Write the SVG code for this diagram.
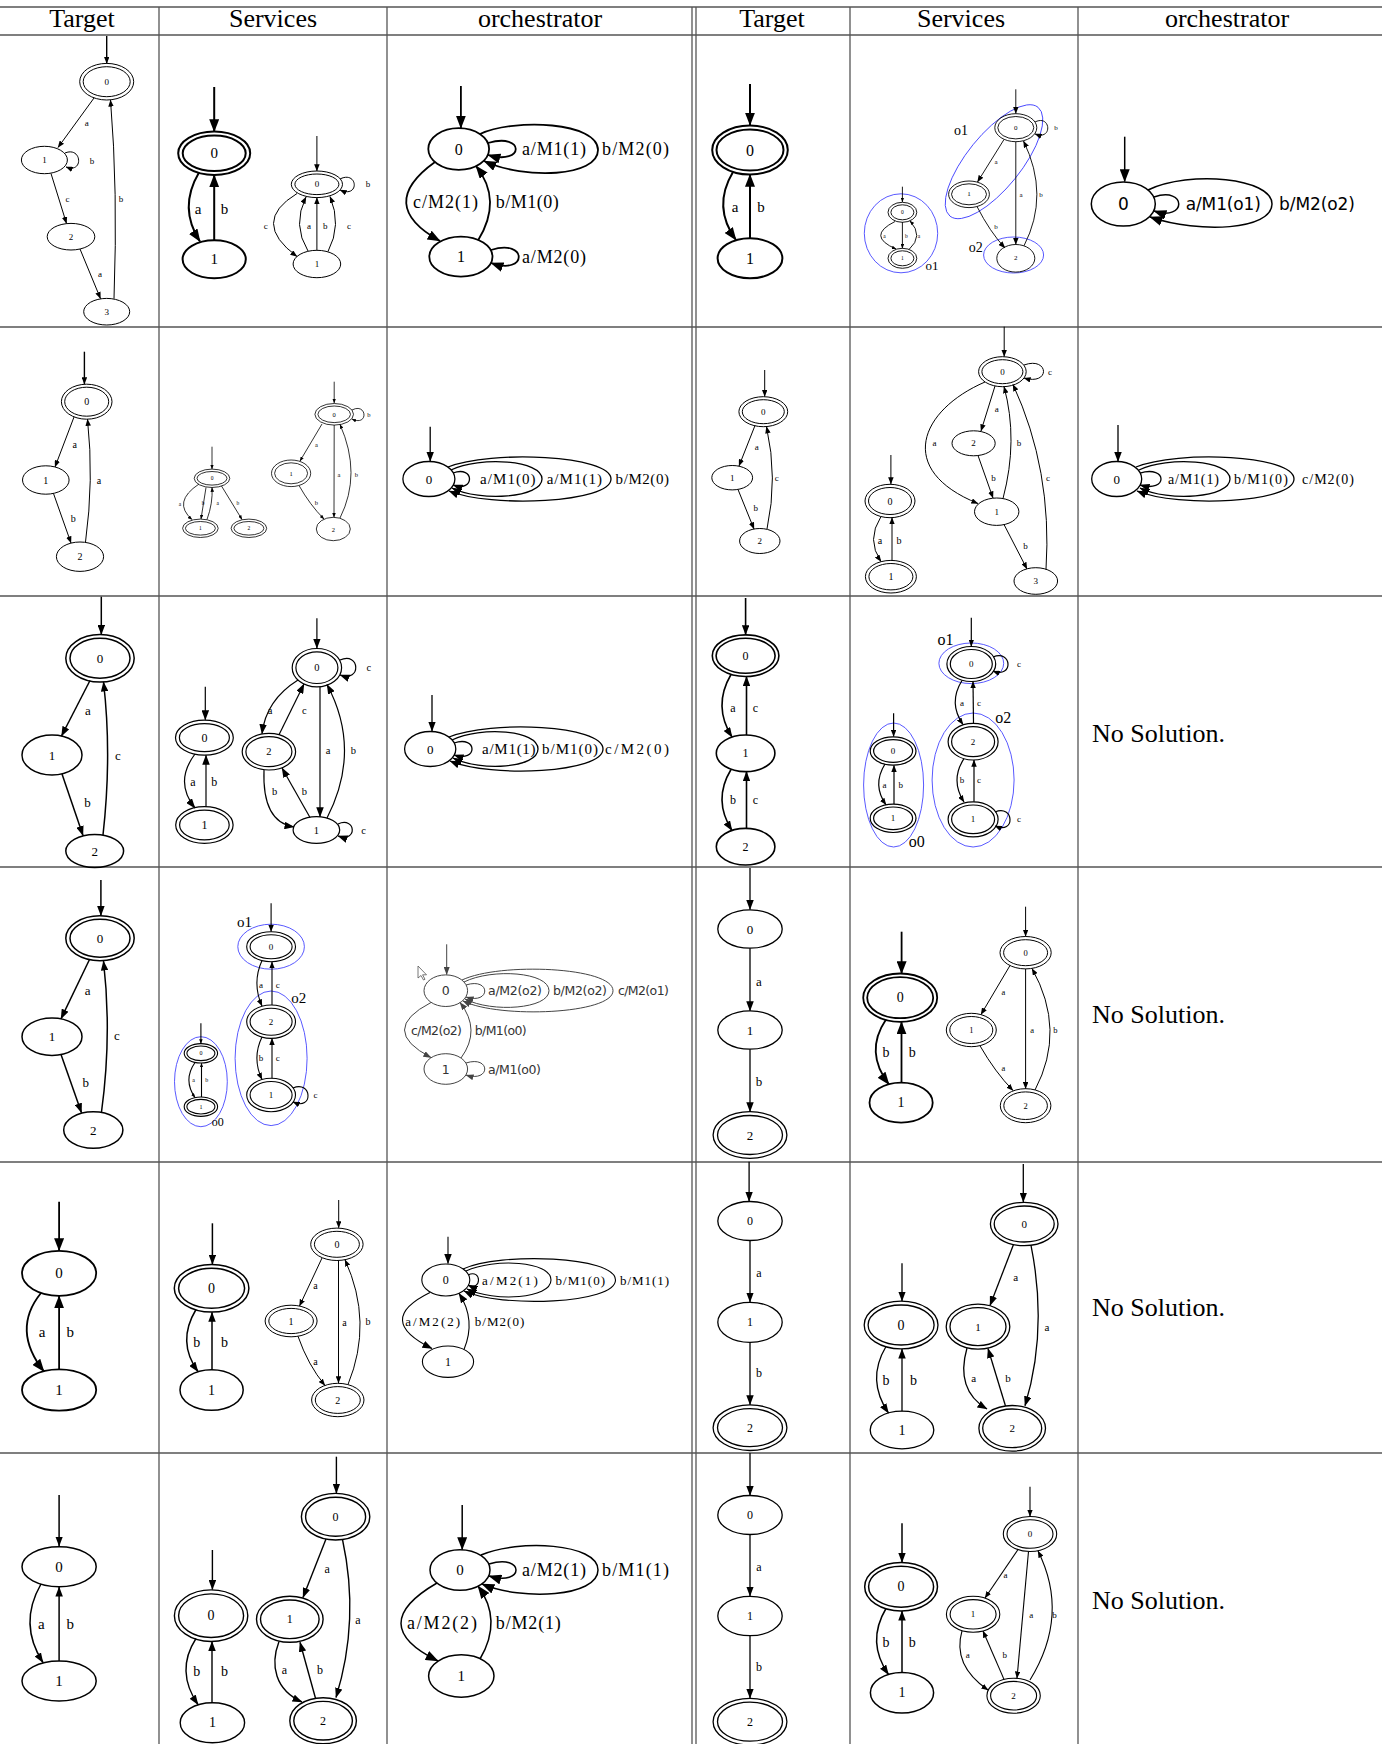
<svg xmlns="http://www.w3.org/2000/svg" width="1391" height="1744" viewBox="0 0 1391 1744">
<defs>
<style>
text{stroke:none;fill:#000;font-family:"Liberation Serif","Times New Roman",serif;text-anchor:middle;dominant-baseline:central}
.hd{font-size:26px;dominant-baseline:alphabetic}
.ns{font-size:26px;text-anchor:start;dominant-baseline:alphabetic}
.grid line{stroke:#555;stroke-width:1.3}
.cl{stroke:#4646ff;stroke-width:0.9;fill:none}
.dv{font-family:"DejaVu Sans",sans-serif}
.gr text{fill:#333}
</style>
<marker id="aL" viewBox="0 0 10 10" refX="9.5" refY="5" markerWidth="13" markerHeight="10" markerUnits="userSpaceOnUse" orient="auto" preserveAspectRatio="none"><path d="M0,0L10,5L0,10z" fill="#000"/></marker>
<marker id="aM" viewBox="0 0 10 10" refX="9.5" refY="5" markerWidth="10" markerHeight="7.5" markerUnits="userSpaceOnUse" orient="auto" preserveAspectRatio="none"><path d="M0,0L10,5L0,10z" fill="#000"/></marker>
<marker id="aS" viewBox="0 0 10 10" refX="9.5" refY="5" markerWidth="7" markerHeight="5.5" markerUnits="userSpaceOnUse" orient="auto" preserveAspectRatio="none"><path d="M0,0L10,5L0,10z" fill="#000"/></marker>
<marker id="aT" viewBox="0 0 10 10" refX="9.5" refY="5" markerWidth="4.5" markerHeight="3.5" markerUnits="userSpaceOnUse" orient="auto" preserveAspectRatio="none"><path d="M0,0L10,5L0,10z" fill="#000"/></marker>
<marker id="aG" viewBox="0 0 10 10" refX="9.5" refY="5" markerWidth="8" markerHeight="6" markerUnits="userSpaceOnUse" orient="auto" preserveAspectRatio="none"><path d="M0,0L10,5L0,10z" fill="#444"/></marker>
</defs>
<rect width="1391" height="1744" fill="#fff"/>

<g id="grid" class="grid">
<line x1="0" y1="7" x2="1382" y2="7"/>
<line x1="0" y1="35" x2="1382" y2="35"/>
<line x1="0" y1="327" x2="1382" y2="327"/>
<line x1="0" y1="596" x2="1382" y2="596"/>
<line x1="0" y1="867" x2="1382" y2="867"/>
<line x1="0" y1="1162" x2="1382" y2="1162"/>
<line x1="0" y1="1453" x2="1382" y2="1453"/>
<line x1="159" y1="7" x2="159" y2="1744"/>
<line x1="387" y1="7" x2="387" y2="1744"/>
<line x1="692" y1="7" x2="692" y2="1744"/>
<line x1="696" y1="7" x2="696" y2="1744"/>
<line x1="850" y1="7" x2="850" y2="1744"/>
<line x1="1078" y1="7" x2="1078" y2="1744"/>
</g>

<g id="header">
<text class="hd" x="82" y="27">Target</text>
<text class="hd" x="273" y="27">Services</text>
<text class="hd" x="540" y="27">orchestrator</text>
<text class="hd" x="772" y="27">Target</text>
<text class="hd" x="961" y="27">Services</text>
<text class="hd" x="1227" y="27">orchestrator</text>
</g>

<!-- ============ ROW 1 ============ -->
<g id="r1-target" stroke="#000" fill="none" stroke-width="1" font-size="9">
 <g id="r1t-n0"><ellipse cx="106.7" cy="81.7" rx="27" ry="18.3"/><ellipse cx="106.7" cy="81.7" rx="23.5" ry="15"/><text x="106.7" y="81.7">0</text></g>
 <g id="r1t-n1"><ellipse cx="44.4" cy="160" rx="23" ry="13.7"/><text x="44.4" y="160">1</text></g>
 <g id="r1t-n2"><ellipse cx="71" cy="236.7" rx="23.8" ry="13.3"/><text x="71" y="236.7">2</text></g>
 <g id="r1t-n3"><ellipse cx="106.7" cy="311.7" rx="23" ry="13.3"/><text x="106.7" y="311.7">3</text></g>
 <g id="r1t-edges" marker-end="url(#aS)">
  <path d="M106.7,36L106.7,63.4" stroke-width="1.4"/>
  <path d="M94,98L58,147.5"/><text x="86.7" y="123">a</text>
  <path d="M65,153C82,146 84,174 66,167"/><text x="92" y="160.7">b</text>
  <path d="M51,173.5L66.5,223.5"/><text x="67.5" y="199">c</text>
  <path d="M80,249L100.5,298.6"/><text x="100" y="274">a</text>
  <path d="M114,298.7Q118,190 110.5,100"/><text x="121" y="199">b</text>
 </g>
</g>

<g id="r1-services" stroke="#000" fill="none">
 <g id="r1s-A" stroke-width="2" font-size="15">
  <g id="r1sA-n0"><ellipse cx="214.2" cy="153.3" rx="36" ry="21.7"/><ellipse cx="214.2" cy="153.3" rx="31.5" ry="17.7"/><text x="214.2" y="153.3">0</text></g>
  <g id="r1sA-n1"><ellipse cx="214.2" cy="259.3" rx="31.6" ry="19"/><text x="214.2" y="259.3">1</text></g>
  <g id="r1sA-edges" marker-end="url(#aL)">
   <path d="M214.2,87L214.2,131.6"/>
   <path d="M199,172.5Q178,208 200,241.5"/><text x="198" y="209.3">a</text>
   <path d="M214.2,240.3L214.2,175"/><text x="224.4" y="209.3">b</text>
  </g>
 </g>
 <g id="r1s-B" stroke-width="1" font-size="9">
  <g id="r1sB-n0"><ellipse cx="316.9" cy="184.3" rx="25.6" ry="13.3"/><ellipse cx="316.9" cy="184.3" rx="22" ry="10.3"/><text x="316.9" y="184.3">0</text></g>
  <g id="r1sB-n1"><ellipse cx="316.9" cy="264" rx="23.8" ry="13.7"/><text x="316.9" y="264">1</text></g>
  <g id="r1sB-edges" marker-end="url(#aS)">
   <path d="M316.9,136L316.9,171"/>
   <path d="M340,179C358,170 360,199 340,190"/><text x="368" y="184.3">b</text>
   <path d="M297,193.5Q250,222 297,256.5"/><text x="265.8" y="226">c</text>
   <path d="M308,251Q292,225 306,197"/><text x="309" y="226">a</text>
   <path d="M316.9,250.3L316.9,197.6"/><text x="325.3" y="226">b</text>
   <path d="M328,251.5Q342,225 330,196.5"/><text x="348.9" y="226">c</text>
  </g>
 </g>
</g>

<g id="r1-orch" stroke="#000" fill="none" stroke-width="1.8" font-size="18">
 <g id="r1o-n0"><ellipse cx="458.7" cy="149" rx="30.4" ry="20.8"/><text x="458.7" y="149" font-size="16">0</text></g>
 <g id="r1o-n1"><ellipse cx="460.9" cy="256.7" rx="31.6" ry="20"/><text x="460.9" y="256.7" font-size="16">1</text></g>
 <g id="r1o-edges" marker-end="url(#aL)">
  <path d="M460.9,86L460.9,128"/>
  <path d="M488,143C525,132 525,166 488,155"/><text x="554" y="149" textLength="64" lengthAdjust="spacing">a/M1(1)</text>
  <path d="M480,134C515,118 598,122 598,150C598,177 525,180 484,161"/><text x="635.5" y="149" textLength="67" lengthAdjust="spacing">b/M2(0)</text>
  <path d="M435,162Q375,205 440,241"/><text x="445.5" y="201.7" textLength="65" lengthAdjust="spacing">c/M2(1)</text>
  <path d="M478,240.5Q503,200 476,166"/><text x="527.3" y="201.7" textLength="63" lengthAdjust="spacing">b/M1(0)</text>
  <path d="M491,250C528,238 528,276 491,263"/><text x="554" y="256.7" textLength="64" lengthAdjust="spacing">a/M2(0)</text>
 </g>
</g>

<g id="r1-target2" stroke="#000" fill="none" stroke-width="2" font-size="15">
 <g id="r1T-n0"><ellipse cx="750" cy="150" rx="37.8" ry="24.5"/><ellipse cx="750" cy="150" rx="33.5" ry="20.5"/><text x="750" y="150" font-size="16">0</text></g>
 <g id="r1T-n1"><ellipse cx="750" cy="258.3" rx="32.4" ry="20"/><text x="750" y="258.3" font-size="16">1</text></g>
 <g id="r1T-edges" marker-end="url(#aL)">
  <path d="M750,84L750,125"/>
  <path d="M733,172Q712,207 736,240"/><text x="735" y="207.3">a</text>
  <path d="M750,238.3L750,174.5"/><text x="761" y="207.3">b</text>
 </g>
</g>

<g id="r1-services2" stroke="#000" fill="none" stroke-width="0.9">
 <ellipse class="cl" cx="901" cy="233.3" rx="36.7" ry="39.5"/><text x="932" y="265" font-size="13">o1</text>
 <ellipse class="cl" cx="994" cy="161.7" rx="70" ry="27" transform="rotate(-51 994 161.7)"/><text x="961" y="130" font-size="14">o1</text>
 <ellipse class="cl" cx="1013.6" cy="255" rx="30" ry="18"/><text x="975.8" y="247.3" font-size="14">o2</text>
 <g id="r1S-A" font-size="5.5">
  <g id="r1SA-n0"><ellipse cx="902.4" cy="212.3" rx="14.4" ry="10"/><ellipse cx="902.4" cy="212.3" rx="11.5" ry="7.5"/><text x="902.4" y="212.3">0</text></g>
  <g id="r1SA-n1"><ellipse cx="902.4" cy="258.3" rx="14.4" ry="10"/><ellipse cx="902.4" cy="258.3" rx="11.5" ry="7.5"/><text x="902.4" y="258.3">1</text></g>
  <g id="r1SA-edges" marker-end="url(#aT)">
   <path d="M902.4,186.7L902.4,202"/>
   <path d="M895,221.5Q866,236 896,249"/><text x="884.5" y="236">a</text>
   <path d="M902.4,222L902.4,248.3"/><text x="906.4" y="236">b</text>
   <path d="M909,249.5Q924,236 910,221"/><text x="919" y="236">a</text>
  </g>
 </g>
 <g id="r1S-B" font-size="7">
  <g id="r1SB-n0"><ellipse cx="1015.8" cy="127.7" rx="21" ry="14"/><ellipse cx="1015.8" cy="127.7" rx="18" ry="11.2"/><text x="1015.8" y="127.7">0</text></g>
  <g id="r1SB-n1"><ellipse cx="969" cy="194.3" rx="20.4" ry="13.3"/><ellipse cx="969" cy="194.3" rx="17.5" ry="10.5"/><text x="969" y="194.3">1</text></g>
  <g id="r1SB-n2"><ellipse cx="1015.8" cy="258.3" rx="19" ry="13.8"/><text x="1015.8" y="258.3">2</text></g>
  <g id="r1SB-edges" marker-end="url(#aS)">
   <path d="M1015.8,89.3L1015.8,113.5"/>
   <path d="M1035,122C1051,114 1053,141 1035,134"/><text x="1056" y="127.7">b</text>
   <path d="M1004,139.5L977.5,182"/><text x="996" y="162.3">a</text>
   <path d="M1015.8,141.7L1015.8,244.5"/><text x="1021" y="195">a</text>
   <path d="M1024,245.8Q1050,195 1023.5,141"/><text x="1041" y="195">b</text>
   <path d="M977,206.5Q990,232 1005,248"/><text x="996" y="227.3">b</text>
  </g>
 </g>
</g>

<g id="r1-orch2" stroke="#000" fill="none" stroke-width="1.5" font-size="17">
 <g id="r1O-n0"><ellipse cx="1123.3" cy="204" rx="32" ry="22"/><text class="dv" x="1123.3" y="204">0</text></g>
 <g id="r1O-edges" marker-end="url(#aL)">
  <path d="M1124.7,136.7L1124.7,181.5"/>
  <path d="M1154,197C1187,186 1187,222 1154,211"/><text class="dv" x="1223.3" y="204" textLength="75" lengthAdjust="spacing">a/M1(o1)</text>
  <path d="M1148,190C1190,170 1272,178 1272,204C1272,230 1200,234 1150,217"/><text class="dv" x="1317" y="204" textLength="76" lengthAdjust="spacing">b/M2(o2)</text>
 </g>
</g>

<!-- ============ ROW 2 ============ -->
<g id="r2-target" stroke="#000" fill="none" stroke-width="1" font-size="10">
 <g id="r2t-n0"><ellipse cx="86.7" cy="401.7" rx="25.3" ry="17.5"/><ellipse cx="86.7" cy="401.7" rx="22" ry="14.5"/><text x="86.7" y="401.7">0</text></g>
 <g id="r2t-n1"><ellipse cx="45.8" cy="480" rx="23.3" ry="14.2"/><text x="45.8" y="480">1</text></g>
 <g id="r2t-n2"><ellipse cx="80" cy="556.7" rx="23.6" ry="14.7"/><text x="80" y="556.7">2</text></g>
 <g id="r2t-edges" marker-end="url(#aS)">
  <path d="M84.4,351.7L84.4,384" stroke-width="1.4"/>
  <path d="M74,417L55,467"/><text x="74.7" y="444">a</text>
  <path d="M53.5,493.5L71,543"/><text x="73.3" y="518.3">b</text>
  <path d="M85.5,542Q94,480 87.5,419.2"/><text x="99" y="480.7">a</text>
 </g>
</g>

<g id="r2-services" stroke="#000" fill="none" stroke-width="0.8">
 <g id="r2s-A" font-size="5.5">
  <g id="r2sA-n0"><ellipse cx="212" cy="478.3" rx="17.8" ry="9.2"/><ellipse cx="212" cy="478.3" rx="15" ry="6.8"/><text x="212" y="478.3">0</text></g>
  <g id="r2sA-n1"><ellipse cx="200.4" cy="528.3" rx="17.8" ry="9.2"/><ellipse cx="200.4" cy="528.3" rx="15" ry="6.8"/><text x="200.4" y="528.3">1</text></g>
  <g id="r2sA-n2"><ellipse cx="248.9" cy="528.3" rx="17.8" ry="9.2"/><ellipse cx="248.9" cy="528.3" rx="15" ry="6.8"/><text x="248.9" y="528.3">2</text></g>
  <g id="r2sA-edges" marker-end="url(#aT)">
   <path d="M212,446.7L212,469"/>
   <path d="M199,484Q172,502 192,519.5"/><text x="180" y="504">a</text>
   <path d="M206,487.5L201,519"/><text x="203" y="503.3">b</text>
   <path d="M207,519.5Q213,503 212,487.5"/><text x="217.8" y="503.3">a</text>
   <path d="M221.5,486L242,519.5"/><text x="237.8" y="503.3">b</text>
  </g>
 </g>
 <g id="r2s-B" font-size="6.5">
  <g id="r2sB-n0"><ellipse cx="334.2" cy="414.3" rx="19.3" ry="10.8"/><ellipse cx="334.2" cy="414.3" rx="16.3" ry="8.3"/><text x="334.2" y="414.3">0</text></g>
  <g id="r2sB-n1"><ellipse cx="291.1" cy="473.3" rx="19.6" ry="13.3"/><ellipse cx="291.1" cy="473.3" rx="16.5" ry="10.5"/><text x="291.1" y="473.3">1</text></g>
  <g id="r2sB-n2"><ellipse cx="333.3" cy="529" rx="17" ry="11.7"/><text x="333.3" y="529">2</text></g>
  <g id="r2sB-edges" marker-end="url(#aT)">
   <path d="M334.2,381.7L334.2,403"/>
   <path d="M352,410C367,402 369,427 352,419"/><text x="368.9" y="414.3">b</text>
   <path d="M322,424L300,461"/><text x="316.4" y="444.3">a</text>
   <path d="M334.2,425L334,517.3"/><text x="339" y="474">a</text>
   <path d="M340,518Q362,474 340,424.5"/><text x="356.4" y="474">b</text>
   <path d="M299,485.5Q310,505 324,519"/><text x="316.4" y="502.7">b</text>
  </g>
 </g>
</g>

<g id="r2-orch" stroke="#000" fill="none" stroke-width="1.3" font-size="15">
 <g id="r2o-n0"><ellipse cx="428.9" cy="479" rx="26" ry="17.5"/><text x="428.9" y="479" font-size="13">0</text></g>
 <g id="r2o-edges" marker-end="url(#aM)">
  <path d="M430.2,426.7L430.2,461.3"/>
  <path d="M453,473C475,465 475,493 453,485"/><text x="507.8" y="479" textLength="55.6" lengthAdjust="spacing">a/M1(0)</text>
  <path d="M451,470C480,456 542,460 542,479C542,498 480,502 452,488"/><text x="574.3" y="479" textLength="55.3" lengthAdjust="spacing">a/M1(1)</text>
  <path d="M448,467C490,450 611,455 611,479C611,503 490,508 449,491"/><text x="642.3" y="479" textLength="53.4" lengthAdjust="spacing">b/M2(0)</text>
 </g>
</g>

<g id="r2-target2" stroke="#000" fill="none" stroke-width="1" font-size="9">
 <g id="r2T-n0"><ellipse cx="763.3" cy="411.7" rx="24.4" ry="15"/><ellipse cx="763.3" cy="411.7" rx="21" ry="12"/><text x="763.3" y="411.7">0</text></g>
 <g id="r2T-n1"><ellipse cx="732.2" cy="477.7" rx="20.4" ry="12.2"/><text x="732.2" y="477.7">1</text></g>
 <g id="r2T-n2"><ellipse cx="759.8" cy="541" rx="20.2" ry="12.5"/><text x="759.8" y="541">2</text></g>
 <g id="r2T-edges" marker-end="url(#aS)">
  <path d="M764.7,370L764.7,396.5"/>
  <path d="M755,425.5L739,466"/><text x="756.7" y="446.7">a</text>
  <path d="M738,489.5L754,529"/><text x="755.8" y="508.3">b</text>
  <path d="M767,529Q778,478 766.5,426.7"/><text x="776.7" y="477.7">c</text>
 </g>
</g>

<g id="r2-services2" stroke="#000" fill="none" stroke-width="1">
 <g id="r2S-A" font-size="10">
  <g id="r2SA-n0"><ellipse cx="890" cy="501" rx="25" ry="16.7"/><ellipse cx="890" cy="501" rx="21.5" ry="13.5"/><text x="890" y="501">0</text></g>
  <g id="r2SA-n1"><ellipse cx="890.9" cy="576.7" rx="25.5" ry="16.3"/><ellipse cx="890.9" cy="576.7" rx="22" ry="13.2"/><text x="890.9" y="576.7">1</text></g>
  <g id="r2SA-edges" marker-end="url(#aS)">
   <path d="M890.9,455L890.9,484"/>
   <path d="M881,516.5Q866,540 881,561.5"/><text x="880" y="540">a</text>
   <path d="M892,560.4L892,517.7"/><text x="899" y="540">b</text>
  </g>
 </g>
 <g id="r2S-B" font-size="9">
  <g id="r2SB-n0"><ellipse cx="1002.4" cy="371.7" rx="23.8" ry="15"/><ellipse cx="1002.4" cy="371.7" rx="20.5" ry="12"/><text x="1002.4" y="371.7">0</text></g>
  <g id="r2SB-n2"><ellipse cx="973.6" cy="443.3" rx="21.6" ry="12.5"/><text x="973.6" y="443.3">2</text></g>
  <g id="r2SB-n1"><ellipse cx="996.7" cy="511.7" rx="22.2" ry="13.7"/><text x="996.7" y="511.7">1</text></g>
  <g id="r2SB-n3"><ellipse cx="1035.8" cy="581" rx="21.8" ry="13.3"/><text x="1035.8" y="581">3</text></g>
  <g id="r2SB-edges" marker-end="url(#aS)">
   <path d="M1004.2,326.7L1004.2,356.5"/>
   <path d="M1024,365C1049,356 1051,386 1024,378"/><text x="1050" y="371.7">c</text>
   <path d="M995,386L981,431"/><text x="996.7" y="409.3">a</text>
   <path d="M985,382C920,410 895,470 978,503.5"/><text x="934.4" y="443.3">a</text>
   <path d="M978,455.5L993,498"/><text x="993.6" y="477.7">b</text>
   <path d="M1003,498.5Q1018.5,440 1004,386.6"/><text x="1018.9" y="443.3">b</text>
   <path d="M1004,524.5L1027,569"/><text x="1025.6" y="545.7">b</text>
   <path d="M1046,569.5Q1052.5,470 1013,384.5"/><text x="1048" y="478.3">c</text>
  </g>
 </g>
</g>

<g id="r2-orch2" stroke="#000" fill="none" stroke-width="1.3" font-size="14">
 <g id="r2O-n0"><ellipse cx="1116.7" cy="479" rx="25" ry="17.5"/><text x="1116.7" y="479" font-size="13">0</text></g>
 <g id="r2O-edges" marker-end="url(#aM)">
  <path d="M1118,425L1118,461.5"/>
  <path d="M1140,473C1168,465 1168,493 1140,485"/><text x="1193.4" y="479" textLength="51" lengthAdjust="spacing">a/M1(1)</text>
  <path d="M1139,470C1168,456 1230,460 1230,479C1230,498 1168,502 1140,488"/><text x="1261" y="479" textLength="54" lengthAdjust="spacing">b/M1(0)</text>
  <path d="M1136,467C1178,450 1294,455 1294,479C1294,503 1178,508 1137,491"/><text x="1328" y="479" textLength="52" lengthAdjust="spacing">c/M2(0)</text>
 </g>
</g>

<!-- ============ ROW 3 ============ -->
<g id="r3-target" stroke="#000" fill="none" stroke-width="1.5" font-size="13">
 <g id="r3t-n0"><ellipse cx="100" cy="658.3" rx="34.2" ry="23.7"/><ellipse cx="100" cy="658.3" rx="30" ry="20"/><text x="100" y="658.3">0</text></g>
 <g id="r3t-n1"><ellipse cx="52" cy="755" rx="30" ry="20"/><text x="52" y="755">1</text></g>
 <g id="r3t-n2"><ellipse cx="94.7" cy="851" rx="28.9" ry="16.5"/><text x="94.7" y="851">2</text></g>
 <g id="r3t-edges" marker-end="url(#aM)">
  <path d="M101.3,596.7L101.3,634.5"/>
  <path d="M90,680.5L61.5,736"/><text x="88" y="710">a</text>
  <path d="M62,774L83,835.5"/><text x="87.6" y="802.3">b</text>
  <path d="M103,835Q112,755 103.5,682"/><text x="117.8" y="755">c</text>
 </g>
</g>

<g id="r3-services" stroke="#000" fill="none" stroke-width="1.2">
 <g id="r3s-A" font-size="12">
  <g id="r3sA-n0"><ellipse cx="204.4" cy="737.7" rx="28.9" ry="17.5"/><ellipse cx="204.4" cy="737.7" rx="25" ry="14"/><text x="204.4" y="737.7">0</text></g>
  <g id="r3sA-n1"><ellipse cx="204.4" cy="825" rx="28.7" ry="18.3"/><ellipse cx="204.4" cy="825" rx="24.8" ry="14.8"/><text x="204.4" y="825">1</text></g>
  <g id="r3sA-edges" marker-end="url(#aM)">
   <path d="M205.3,686.7L205.3,719.8"/>
   <path d="M195,754Q174,782 195,808"/><text x="193" y="782.3">a</text>
   <path d="M206,806.7L206,755.2"/><text x="214.2" y="782.3">b</text>
  </g>
 </g>
 <g id="r3s-B" font-size="10.5">
  <g id="r3sB-n0"><ellipse cx="316.9" cy="667.7" rx="24.7" ry="19.2"/><ellipse cx="316.9" cy="667.7" rx="21" ry="15.8"/><text x="316.9" y="667.7">0</text></g>
  <g id="r3sB-n2"><ellipse cx="268.9" cy="751.7" rx="26.7" ry="18.3"/><ellipse cx="268.9" cy="751.7" rx="23" ry="15"/><text x="268.9" y="751.7">2</text></g>
  <g id="r3sB-n1"><ellipse cx="316.4" cy="830" rx="23.3" ry="13.3"/><text x="316.4" y="830">1</text></g>
  <g id="r3sB-edges" marker-end="url(#aM)">
   <path d="M316.9,618.3L316.9,648.3"/>
   <path d="M340,660C360,651 362,683 340,675"/><text x="368.9" y="667.7">c</text>
   <path d="M298,680Q266,700 262,733.7"/><text x="270" y="710">a</text>
   <path d="M279,734.7L304,684"/><text x="304.4" y="710">c</text>
   <path d="M320,686.9L320,816.8"/><text x="328" y="750.7">a</text>
   <path d="M327,818Q362,750 327,684.5"/><text x="353.3" y="750.7">b</text>
   <path d="M264,770Q262,822 294,827"/><text x="274.7" y="791.7">b</text>
   <path d="M310,817.5L282,768"/><text x="304.4" y="791.7">b</text>
   <path d="M338,824C356,816 358,843 338,836"/><text x="363.6" y="830">c</text>
  </g>
 </g>
</g>

<g id="r3-orch" stroke="#000" fill="none" stroke-width="1.3" font-size="15">
 <g id="r3o-n0"><ellipse cx="430.2" cy="749" rx="25.6" ry="17.5"/><text x="430.2" y="749" font-size="13">0</text></g>
 <g id="r3o-edges" marker-end="url(#aM)">
  <path d="M432,695L432,731.2"/>
  <path d="M454,743C478,735 478,763 454,755"/><text x="508.8" y="749" textLength="53.6" lengthAdjust="spacing">a/M1(1)</text>
  <path d="M452,740C481,726 538,730 538,749C538,768 481,772 453,758"/><text x="570" y="749" textLength="56" lengthAdjust="spacing">b/M1(0)</text>
  <path d="M449,737C491,720 603,725 603,749C603,773 491,778 450,761"/><text x="637" y="749" textLength="64" lengthAdjust="spacing">c/M2(0)</text>
 </g>
</g>

<g id="r3-target2" stroke="#000" fill="none" stroke-width="1.6" font-size="12">
 <g id="r3T-n0"><ellipse cx="745.6" cy="655.7" rx="33.3" ry="20.8"/><ellipse cx="745.6" cy="655.7" rx="29.5" ry="17.5"/><text x="745.6" y="655.7">0</text></g>
 <g id="r3T-n1"><ellipse cx="745.6" cy="753.3" rx="29.3" ry="18.3"/><text x="745.6" y="753.3">1</text></g>
 <g id="r3T-n2"><ellipse cx="745.6" cy="846.7" rx="29.3" ry="18.3"/><text x="745.6" y="846.7">2</text></g>
 <g id="r3T-edges" marker-end="url(#aM)">
  <path d="M745.6,598L745.6,634.7"/>
  <path d="M731,674.5Q712.5,706 732,737"/><text x="733" y="708.3">a</text>
  <path d="M746.5,735L746.5,676.5"/><text x="755.3" y="708.3">c</text>
  <path d="M731,769.5Q712.5,800 732,830.5"/><text x="733" y="800">b</text>
  <path d="M746.5,828.4L746.5,771.6"/><text x="755.3" y="800">c</text>
 </g>
</g>

<g id="r3-services2" stroke="#000" fill="none" stroke-width="1.2">
 <ellipse class="cl" cx="893.6" cy="785" rx="30" ry="62"/><text x="916.7" y="841.7" font-size="16">o0</text>
 <ellipse class="cl" cx="971.3" cy="663.3" rx="32.4" ry="20.3"/><text x="945.6" y="639.3" font-size="16">o1</text>
 <ellipse class="cl" cx="973.1" cy="780" rx="41" ry="67"/><text x="1003.3" y="717.7" font-size="16">o2</text>
 <g id="r3S-A" font-size="9">
  <g id="r3SA-n0"><ellipse cx="893.1" cy="751" rx="22.9" ry="14.2"/><ellipse cx="893.1" cy="751" rx="19.5" ry="11.3"/><text x="893.1" y="751">0</text></g>
  <g id="r3SA-n1"><ellipse cx="893.1" cy="818.3" rx="22.9" ry="14.2"/><ellipse cx="893.1" cy="818.3" rx="19.5" ry="11.3"/><text x="893.1" y="818.3">1</text></g>
  <g id="r3SA-edges" marker-end="url(#aS)">
   <path d="M893.6,713.3L893.6,736.5"/>
   <path d="M885,764Q872,785 886,804.8"/><text x="884.5" y="785">a</text>
   <path d="M894,804L894,765.4"/><text x="900.7" y="785">b</text>
  </g>
 </g>
 <g id="r3S-B" font-size="9">
  <g id="r3SB-n0"><ellipse cx="971.3" cy="664" rx="24.4" ry="17.5"/><ellipse cx="971.3" cy="664" rx="21" ry="14.5"/><text x="971.3" y="664">0</text></g>
  <g id="r3SB-n2"><ellipse cx="973.1" cy="741.7" rx="25" ry="18.3"/><ellipse cx="973.1" cy="741.7" rx="21.5" ry="15"/><text x="973.1" y="741.7">2</text></g>
  <g id="r3SB-n1"><ellipse cx="973.1" cy="819.3" rx="25" ry="17.5"/><ellipse cx="973.1" cy="819.3" rx="21.5" ry="14.3"/><text x="973.1" y="819.3">1</text></g>
  <g id="r3SB-edges" marker-end="url(#aS)">
   <path d="M971.3,617.7L971.3,646.3"/>
   <path d="M993,657C1012,649 1014,679 993,671"/><text x="1018.9" y="664">c</text>
   <path d="M962,680.5Q948,703 963,724.5"/><text x="962" y="703.3">a</text>
   <path d="M973.5,723.4L973,681.5"/><text x="978.9" y="703.3">c</text>
   <path d="M964,758.7Q950,780 964,802"/><text x="962" y="780">b</text>
   <path d="M974,801.8L974,760"/><text x="978.9" y="780">c</text>
   <path d="M995,812C1014,804 1016,835 995,826"/><text x="1018.9" y="819.3">c</text>
  </g>
 </g>
</g>

<text class="ns" x="1092" y="741.7">No Solution.</text>

<!-- ============ ROW 4 ============ -->
<g id="r4-target" stroke="#000" fill="none" stroke-width="1.5" font-size="13">
 <g id="r4t-n0"><ellipse cx="100" cy="938.3" rx="34.2" ry="22.5"/><ellipse cx="100" cy="938.3" rx="30" ry="19"/><text x="100" y="938.3">0</text></g>
 <g id="r4t-n1"><ellipse cx="52" cy="1036.7" rx="30" ry="18.7"/><text x="52" y="1036.7">1</text></g>
 <g id="r4t-n2"><ellipse cx="93.3" cy="1130" rx="29.6" ry="18.3"/><text x="93.3" y="1130">2</text></g>
 <g id="r4t-edges" marker-end="url(#aM)">
  <path d="M100.9,880L100.9,915.6"/>
  <path d="M89.5,959.5L61,1018.8"/><text x="87.6" y="990.7">a</text>
  <path d="M61,1054.5L81.5,1112.8"/><text x="85.8" y="1082.3">b</text>
  <path d="M101.5,1112Q112,1035 103.5,961"/><text x="116.9" y="1035.7">c</text>
 </g>
</g>

<g id="r4-services" stroke="#000" fill="none" stroke-width="1.1">
 <ellipse class="cl" cx="200.9" cy="1081.7" rx="26.4" ry="45"/><text x="217.8" y="1122.3" font-size="12">o0</text>
 <ellipse class="cl" cx="271.1" cy="946.7" rx="33.3" ry="22.5"/><text x="244.4" y="922.3" font-size="15">o1</text>
 <ellipse class="cl" cx="271.1" cy="1058.3" rx="36" ry="67.3"/><text x="298.7" y="997.7" font-size="15">o2</text>
 <g id="r4s-A" font-size="6">
  <g id="r4sA-n0"><ellipse cx="200.9" cy="1053.3" rx="16.7" ry="9.7"/><ellipse cx="200.9" cy="1053.3" rx="14" ry="7.3"/><text x="200.9" y="1053.3">0</text></g>
  <g id="r4sA-n1"><ellipse cx="200.9" cy="1106.7" rx="16.7" ry="9.7"/><ellipse cx="200.9" cy="1106.7" rx="14" ry="7.3"/><text x="200.9" y="1106.7">1</text></g>
  <g id="r4sA-edges" marker-end="url(#aT)">
   <path d="M200.9,1023.3L200.9,1043.5"/>
   <path d="M195,1062.5Q182.8,1080 195,1097.5"/><text x="193.5" y="1080">a</text>
   <path d="M201.5,1097L201.5,1063.2"/><text x="206.7" y="1080">b</text>
  </g>
 </g>
 <g id="r4s-B" font-size="9">
  <g id="r4sB-n0"><ellipse cx="271.1" cy="946.7" rx="24.4" ry="15"/><ellipse cx="271.1" cy="946.7" rx="21" ry="12"/><text x="271.1" y="946.7">0</text></g>
  <g id="r4sB-n2"><ellipse cx="271.1" cy="1021.7" rx="24.4" ry="16.7"/><ellipse cx="271.1" cy="1021.7" rx="21" ry="13.5"/><text x="271.1" y="1021.7">2</text></g>
  <g id="r4sB-n1"><ellipse cx="271.1" cy="1095" rx="24.4" ry="16.7"/><ellipse cx="271.1" cy="1095" rx="21" ry="13.5"/><text x="271.1" y="1095">1</text></g>
  <g id="r4sB-edges" marker-end="url(#aS)">
   <path d="M271.1,903.3L271.1,931.5"/>
   <path d="M262,960.5Q251.8,983 262,1006"/><text x="261" y="985">a</text>
   <path d="M272,1005L272,961.8"/><text x="277.8" y="985">c</text>
   <path d="M262,1037Q251.8,1058 262,1079.5"/><text x="261" y="1058.3">b</text>
   <path d="M272,1078.3L272,1038.4"/><text x="277.8" y="1058.3">c</text>
   <path d="M293,1088C312,1080 314,1111 293,1102"/><text x="315.6" y="1095">c</text>
  </g>
 </g>
</g>

<g id="r4-orch" class="gr" stroke="#444" fill="none" stroke-width="1" font-size="12.5">
 <path id="r4o-cursor" d="M418,966L418,978L421,975.5L423.5,980L425,979.3L422.6,974.8L426.5,974.8Z" fill="#fff" stroke="#555" stroke-width="0.8"/>
 <g id="r4o-n0"><ellipse cx="445.8" cy="990.7" rx="21.8" ry="15.8"/><text class="dv" x="445.8" y="990.7">0</text></g>
 <g id="r4o-n1"><ellipse cx="445.8" cy="1069" rx="21.8" ry="15.3"/><text class="dv" x="445.8" y="1069">1</text></g>
 <g id="r4o-edges" marker-end="url(#aG)">
  <path d="M446.7,944.3L446.7,974.5"/>
  <path d="M466,985C491,977 491,1005 466,997"/><text class="dv" x="515" y="990.7" textLength="54" lengthAdjust="spacing">a/M2(o2)</text>
  <path d="M464,982C492,968 549,972 549,990.7C549,1009 492,1013 465,999"/><text class="dv" x="580" y="990.7" textLength="54" lengthAdjust="spacing">b/M2(o2)</text>
  <path d="M462,980C500,962 613,967 613,990.7C613,1014 500,1019 463,1001"/><text class="dv" x="643.4" y="990.7" textLength="51" lengthAdjust="spacing">c/M2(o1)</text>
  <path d="M431,1002.5Q378,1030 431,1057.5"/><text class="dv" x="436.5" y="1030" textLength="51" lengthAdjust="spacing">c/M2(o2)</text>
  <path d="M461,1058Q481.5,1030 460,1002.5"/><text class="dv" x="500.7" y="1030" textLength="52" lengthAdjust="spacing">b/M1(o0)</text>
  <path d="M466,1063C491,1055 491,1083 466,1075"/><text class="dv" x="514.5" y="1069" textLength="53" lengthAdjust="spacing">a/M1(o0)</text>
 </g>
</g>

<g id="r4-target2" stroke="#000" fill="none" stroke-width="1.3" font-size="13">
 <g id="r4T-n0"><ellipse cx="750" cy="929" rx="32.2" ry="19.2"/><text x="750" y="929">0</text></g>
 <g id="r4T-n1"><ellipse cx="750" cy="1030" rx="32.2" ry="19.2"/><text x="750" y="1030">1</text></g>
 <g id="r4T-n2"><ellipse cx="750" cy="1135" rx="36.9" ry="23.3"/><ellipse cx="750" cy="1135" rx="32.5" ry="19.5"/><text x="750" y="1135">2</text></g>
 <g id="r4T-edges" marker-end="url(#aM)">
  <path d="M750,868L750,909.5"/>
  <path d="M750,948.2L750,1010.8"/><text x="758.9" y="981.7">a</text>
  <path d="M750,1049.2L750,1111.7"/><text x="758.9" y="1081">b</text>
 </g>
</g>

<g id="r4-services2" stroke="#000" fill="none">
 <g id="r4S-A" stroke-width="1.8" font-size="14">
  <g id="r4SA-n0"><ellipse cx="900.2" cy="997.7" rx="37" ry="24.2"/><ellipse cx="900.2" cy="997.7" rx="33" ry="20.5"/><text x="900.2" y="997.7">0</text></g>
  <g id="r4SA-n1"><ellipse cx="901.1" cy="1102.7" rx="31.6" ry="20"/><text x="901.1" y="1102.7">1</text></g>
  <g id="r4SA-edges" marker-end="url(#aL)">
   <path d="M901.6,931.7L901.6,973.5"/>
   <path d="M886,1019.5Q864,1052 889,1084.5"/><text x="886" y="1052.3">b</text>
   <path d="M901.5,1082.7L901.5,1022"/><text x="912.2" y="1052.3">b</text>
  </g>
 </g>
 <g id="r4S-B" stroke-width="1" font-size="8.5">
  <g id="r4SB-n0"><ellipse cx="1025.6" cy="952.7" rx="25.6" ry="16.2"/><ellipse cx="1025.6" cy="952.7" rx="22" ry="13"/><text x="1025.6" y="952.7">0</text></g>
  <g id="r4SB-n1"><ellipse cx="971.3" cy="1030" rx="25" ry="16.7"/><ellipse cx="971.3" cy="1030" rx="21.5" ry="13.5"/><text x="971.3" y="1030">1</text></g>
  <g id="r4SB-n2"><ellipse cx="1025.6" cy="1105.7" rx="25.3" ry="17"/><ellipse cx="1025.6" cy="1105.7" rx="21.8" ry="13.8"/><text x="1025.6" y="1105.7">2</text></g>
  <g id="r4SB-edges" marker-end="url(#aS)">
   <path d="M1025.6,906.7L1025.6,936.3"/>
   <path d="M1010,965.5L981,1014.5"/><text x="1003.3" y="991.7">a</text>
   <path d="M1025.6,968.9L1025.6,1088.7"/><text x="1032.2" y="1030">a</text>
   <path d="M1035,1090Q1066.5,1030 1032,968.5"/><text x="1055.3" y="1030">b</text>
   <path d="M980,1045.8Q995,1072 1013,1090.5"/><text x="1003.3" y="1068.3">a</text>
  </g>
 </g>
</g>

<text class="ns" x="1092" y="1023.3">No Solution.</text>

<!-- ============ ROW 5 ============ -->
<g id="r5-target" stroke="#000" fill="none" stroke-width="1.8" font-size="15">
 <g id="r5t-n0"><ellipse cx="59.1" cy="1273.3" rx="37.1" ry="22.5"/><text x="59.1" y="1273.3">0</text></g>
 <g id="r5t-n1"><ellipse cx="59.1" cy="1390" rx="37.1" ry="20.7"/><text x="59.1" y="1390">1</text></g>
 <g id="r5t-edges" marker-end="url(#aL)">
  <path d="M59.1,1201.7L59.1,1250.5"/>
  <path d="M41,1293Q11,1330 44,1371.5"/><text x="42.2" y="1331.7">a</text>
  <path d="M59.1,1369.3L59.1,1296"/><text x="70.2" y="1331.7">b</text>
 </g>
</g>

<g id="r5-services" stroke="#000" fill="none">
 <g id="r5s-A" stroke-width="1.5" font-size="14">
  <g id="r5sA-n0"><ellipse cx="211.6" cy="1288.3" rx="37.3" ry="23.8"/><ellipse cx="211.6" cy="1288.3" rx="33" ry="20"/><text x="211.6" y="1288.3">0</text></g>
  <g id="r5sA-n1"><ellipse cx="211.6" cy="1390" rx="31.6" ry="20.3"/><text x="211.6" y="1390">1</text></g>
  <g id="r5sA-edges" marker-end="url(#aM)">
   <path d="M212.4,1223.3L212.4,1264.3"/>
   <path d="M196,1309.5Q176.4,1342 198,1371.5"/><text x="196.8" y="1342.7">b</text>
   <path d="M212,1369.7L212,1312.3"/><text x="224.4" y="1342.7">b</text>
  </g>
 </g>
 <g id="r5s-B" stroke-width="1" font-size="10">
  <g id="r5sB-n0"><ellipse cx="336.9" cy="1244.3" rx="26.2" ry="16.2"/><ellipse cx="336.9" cy="1244.3" rx="22.5" ry="13"/><text x="336.9" y="1244.3">0</text></g>
  <g id="r5sB-n1"><ellipse cx="291.1" cy="1321" rx="26" ry="15.8"/><ellipse cx="291.1" cy="1321" rx="22.3" ry="12.6"/><text x="291.1" y="1321">1</text></g>
  <g id="r5sB-n2"><ellipse cx="337.8" cy="1400" rx="26.2" ry="16.7"/><ellipse cx="337.8" cy="1400" rx="22.5" ry="13.4"/><text x="337.8" y="1400">2</text></g>
  <g id="r5sB-edges" marker-end="url(#aS)">
   <path d="M338.7,1200L338.7,1227.8"/>
   <path d="M322,1258L299.5,1306"/><text x="315.6" y="1285">a</text>
   <path d="M338.5,1260.5L338.5,1383"/><text x="344.4" y="1322.7">a</text>
   <path d="M348,1384.5Q373.5,1322 345,1259.8"/><text x="368" y="1321.7">b</text>
   <path d="M298,1336.3Q308,1365 325,1385.5"/><text x="315.6" y="1361.7">a</text>
  </g>
 </g>
</g>

<g id="r5-orch" stroke="#000" fill="none" stroke-width="1.1" font-size="13">
 <g id="r5o-n0"><ellipse cx="445.8" cy="1280" rx="24" ry="16"/><text x="445.8" y="1280" font-size="12">0</text></g>
 <g id="r5o-n1"><ellipse cx="448" cy="1361.7" rx="25.6" ry="15.7"/><text x="448" y="1361.7" font-size="12">1</text></g>
 <g id="r5o-edges" marker-end="url(#aM)">
  <path d="M448,1236.7L448,1263.5"/>
  <path d="M468,1275C482,1268 482,1292 468,1285"/><text x="510" y="1280" textLength="55.8" lengthAdjust="spacing">a/M2(1)</text>
  <path d="M466,1271C494,1258 551,1261 551,1280C551,1299 494,1302 467,1289"/><text x="580.3" y="1280" textLength="49.4" lengthAdjust="spacing">b/M1(0)</text>
  <path d="M463,1269C500,1252 615.5,1256 615.5,1280C615.5,1304 500,1308 464,1291"/><text x="644.5" y="1280" textLength="49" lengthAdjust="spacing">b/M1(1)</text>
  <path d="M430,1292.5Q374,1320 432,1348.5"/><text x="432.7" y="1321.7" textLength="55" lengthAdjust="spacing">a/M2(2)</text>
  <path d="M464,1349.5Q476.3,1320 459,1293.3"/><text x="499.5" y="1321.7" textLength="49.7" lengthAdjust="spacing">b/M2(0)</text>
 </g>
</g>

<g id="r5-target2" stroke="#000" fill="none" stroke-width="1.3" font-size="12">
 <g id="r5T-n0"><ellipse cx="750" cy="1221" rx="32.2" ry="19.5"/><text x="750" y="1221">0</text></g>
 <g id="r5T-n1"><ellipse cx="750" cy="1322.3" rx="32.2" ry="20"/><text x="750" y="1322.3">1</text></g>
 <g id="r5T-n2"><ellipse cx="750" cy="1427.7" rx="36.9" ry="22.8"/><ellipse cx="750" cy="1427.7" rx="32.5" ry="19"/><text x="750" y="1427.7">2</text></g>
 <g id="r5T-edges" marker-end="url(#aM)">
  <path d="M749.1,1161.7L749.1,1201.3"/>
  <path d="M750,1240.5L750,1302"/><text x="758.9" y="1273.3">a</text>
  <path d="M750,1342.3L750,1404.7"/><text x="758.9" y="1372.7">b</text>
 </g>
</g>

<g id="r5-services2" stroke="#000" fill="none" stroke-width="1.3">
 <g id="r5S-A" font-size="14">
  <g id="r5SA-n0"><ellipse cx="901.1" cy="1325" rx="36.9" ry="23.8"/><ellipse cx="901.1" cy="1325" rx="33" ry="20"/><text x="901.1" y="1325">0</text></g>
  <g id="r5SA-n1"><ellipse cx="902" cy="1430" rx="31.8" ry="18.8"/><text x="902" y="1430">1</text></g>
  <g id="r5SA-edges" marker-end="url(#aM)">
   <path d="M902,1263.3L902,1301"/>
   <path d="M886,1346.5Q866,1380 888.5,1413"/><text x="886" y="1380">b</text>
   <path d="M902,1411.2L902,1349"/><text x="913.6" y="1380">b</text>
  </g>
 </g>
 <g id="r5S-B" font-size="11">
  <g id="r5SB-n0"><ellipse cx="1024.2" cy="1224" rx="33.8" ry="21.7"/><ellipse cx="1024.2" cy="1224" rx="30" ry="18"/><text x="1024.2" y="1224">0</text></g>
  <g id="r5SB-n1"><ellipse cx="978" cy="1326.7" rx="31.8" ry="22.5"/><ellipse cx="978" cy="1326.7" rx="28" ry="19"/><text x="978" y="1326.7">1</text></g>
  <g id="r5SB-n2"><ellipse cx="1012.2" cy="1428.3" rx="33.3" ry="22.8"/><ellipse cx="1012.2" cy="1428.3" rx="29.5" ry="19.3"/><text x="1012.2" y="1428.3">2</text></g>
  <g id="r5SB-edges" marker-end="url(#aM)">
   <path d="M1023.3,1164L1023.3,1202"/>
   <path d="M1013.5,1244.6L990,1305.5"/><text x="1015.8" y="1277.3">a</text>
   <path d="M1031,1245.3Q1048,1330 1025,1405.8"/><text x="1047" y="1327.3">a</text>
   <path d="M967,1348Q955,1390 987,1409"/><text x="973.6" y="1378.3">a</text>
   <path d="M1005.5,1406L988,1348.5"/><text x="1008" y="1378.3">b</text>
  </g>
 </g>
</g>

<text class="ns" x="1092" y="1316">No Solution.</text>

<!-- ============ ROW 6 ============ -->
<g id="r6-target" stroke="#000" fill="none" stroke-width="1.5" font-size="15">
 <g id="r6t-n0"><ellipse cx="59.1" cy="1566.7" rx="37.1" ry="20"/><text x="59.1" y="1566.7">0</text></g>
 <g id="r6t-n1"><ellipse cx="59.1" cy="1681" rx="37.1" ry="20"/><text x="59.1" y="1681">1</text></g>
 <g id="r6t-edges" marker-end="url(#aM)">
  <path d="M59.1,1495L59.1,1546"/>
  <path d="M41,1584Q18,1624 43,1662.5"/><text x="41.3" y="1624">a</text>
  <path d="M59.1,1661L59.1,1587"/><text x="70.2" y="1624">b</text>
 </g>
</g>

<g id="r6-services" stroke="#000" fill="none" stroke-width="1.4">
 <g id="r6s-A" font-size="14">
  <g id="r6sA-n0"><ellipse cx="211.1" cy="1615.7" rx="36.7" ry="25.8"/><ellipse cx="211.1" cy="1615.7" rx="32.5" ry="21.8"/><text x="211.1" y="1615.7">0</text></g>
  <g id="r6sA-n1"><ellipse cx="212.4" cy="1722.7" rx="32.2" ry="20"/><text x="212.4" y="1722.7">1</text></g>
  <g id="r6sA-edges" marker-end="url(#aM)">
   <path d="M212.4,1550L212.4,1589.5"/>
   <path d="M196,1638.5Q175,1671 198,1704.5"/><text x="196.8" y="1671">b</text>
   <path d="M212,1702.7L212,1641.5"/><text x="224.4" y="1671">b</text>
  </g>
 </g>
 <g id="r6s-B" font-size="12">
  <g id="r6sB-n0"><ellipse cx="335.6" cy="1516.7" rx="34.2" ry="23.3"/><ellipse cx="335.6" cy="1516.7" rx="30" ry="19.5"/><text x="335.6" y="1516.7">0</text></g>
  <g id="r6sB-n1"><ellipse cx="289.8" cy="1619.3" rx="33.3" ry="23"/><ellipse cx="289.8" cy="1619.3" rx="29.3" ry="19.3"/><text x="289.8" y="1619.3">1</text></g>
  <g id="r6sB-n2"><ellipse cx="323.1" cy="1720.7" rx="33.3" ry="23"/><ellipse cx="323.1" cy="1720.7" rx="29.3" ry="19.3"/><text x="323.1" y="1720.7">2</text></g>
  <g id="r6sB-edges" marker-end="url(#aM)">
   <path d="M336.4,1456.7L336.4,1493.2"/>
   <path d="M326,1539L303,1597.5"/><text x="327.1" y="1569.3">a</text>
   <path d="M342.5,1539.5Q360,1620 336,1697.5"/><text x="357.8" y="1620">a</text>
   <path d="M279,1641.5C270,1665 275,1690 302,1702"/><text x="284.4" y="1670">a</text>
   <path d="M315.5,1698.3L300,1642.3"/><text x="320" y="1670">b</text>
  </g>
 </g>
</g>

<g id="r6-orch" stroke="#000" fill="none" stroke-width="1.5" font-size="18">
 <g id="r6o-n0"><ellipse cx="460" cy="1570" rx="30" ry="20.3"/><text x="460" y="1570" font-size="15">0</text></g>
 <g id="r6o-n1"><ellipse cx="461.3" cy="1676" rx="32.7" ry="21.2"/><text x="461.3" y="1676" font-size="15">1</text></g>
 <g id="r6o-edges" marker-end="url(#aL)">
  <path d="M462.2,1505L462.2,1549.5"/>
  <path d="M489,1564C525,1553 525,1587 489,1576"/><text x="554" y="1570" textLength="64" lengthAdjust="spacing">a/M2(1)</text>
  <path d="M481,1555C518,1539 598,1543 598,1570C598,1597 522,1601 482,1584"/><text x="635.5" y="1570" textLength="67" lengthAdjust="spacing">b/M1(1)</text>
  <path d="M437,1583Q364.5,1625 438,1661"/><text x="441.9" y="1623.3" textLength="70" lengthAdjust="spacing">a/M2(2)</text>
  <path d="M480,1659Q503,1620 478,1586"/><text x="528.3" y="1623.3" textLength="65" lengthAdjust="spacing">b/M2(1)</text>
 </g>
</g>

<g id="r6-target2" stroke="#000" fill="none" stroke-width="1.3" font-size="12">
 <g id="r6T-n0"><ellipse cx="750" cy="1515" rx="32.2" ry="19.5"/><text x="750" y="1515">0</text></g>
 <g id="r6T-n1"><ellipse cx="750" cy="1616" rx="32.2" ry="19.7"/><text x="750" y="1616">1</text></g>
 <g id="r6T-n2"><ellipse cx="750" cy="1721.7" rx="36.9" ry="23.3"/><ellipse cx="750" cy="1721.7" rx="32.5" ry="19.5"/><text x="750" y="1721.7">2</text></g>
 <g id="r6T-edges" marker-end="url(#aM)">
  <path d="M750,1453L750,1495.3"/>
  <path d="M750,1534.5L750,1596"/><text x="758.9" y="1566.7">a</text>
  <path d="M750,1635.7L750,1698.2"/><text x="758.9" y="1666.7">b</text>
 </g>
</g>

<g id="r6-services2" stroke="#000" fill="none">
 <g id="r6S-A" stroke-width="1.5" font-size="14">
  <g id="r6SA-n0"><ellipse cx="901.1" cy="1586.7" rx="36.4" ry="24.2"/><ellipse cx="901.1" cy="1586.7" rx="32.5" ry="20.5"/><text x="901.1" y="1586.7">0</text></g>
  <g id="r6SA-n1"><ellipse cx="902" cy="1692.7" rx="31.6" ry="20.3"/><text x="902" y="1692.7">1</text></g>
  <g id="r6SA-edges" marker-end="url(#aM)">
   <path d="M902,1523.3L902,1562.3"/>
   <path d="M886,1608.5Q866,1642 888.5,1674.5"/><text x="886" y="1642.3">b</text>
   <path d="M902,1672.4L902,1611"/><text x="912.2" y="1642.3">b</text>
  </g>
 </g>
 <g id="r6S-B" stroke-width="1.1" font-size="9">
  <g id="r6SB-n0"><ellipse cx="1030" cy="1534" rx="26.7" ry="17.5"/><ellipse cx="1030" cy="1534" rx="23" ry="14.3"/><text x="1030" y="1534">0</text></g>
  <g id="r6SB-n1"><ellipse cx="973.1" cy="1614.3" rx="26.7" ry="18"/><ellipse cx="973.1" cy="1614.3" rx="23" ry="14.7"/><text x="973.1" y="1614.3">1</text></g>
  <g id="r6SB-n2"><ellipse cx="1013.6" cy="1695.7" rx="26.7" ry="17.5"/><ellipse cx="1013.6" cy="1695.7" rx="23" ry="14.3"/><text x="1013.6" y="1695.7">2</text></g>
  <g id="r6SB-edges" marker-end="url(#aS)">
   <path d="M1030,1486.7L1030,1516.3"/>
   <path d="M1018,1549.5L985,1598"/><text x="1005.6" y="1575">a</text>
   <path d="M1028.5,1551.5L1017,1678.2"/><text x="1031.3" y="1615">a</text>
   <path d="M1030,1680Q1070,1615 1038,1551"/><text x="1054.4" y="1615">b</text>
   <path d="M962,1630.8Q952,1665 988,1690"/><text x="967.8" y="1655">a</text>
   <path d="M1004,1679.4L983,1631"/><text x="1004.7" y="1655">b</text>
  </g>
 </g>
</g>

<text class="ns" x="1092" y="1609.3">No Solution.</text>
</svg>
